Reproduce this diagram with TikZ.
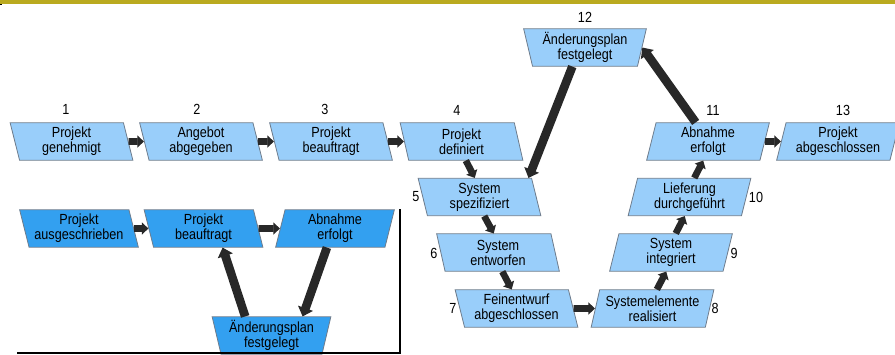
\documentclass[tikz,border=0pt]{standalone}
\usepackage{fontspec}
\setmainfont{Liberation Sans}[FakeStretch=0.86]
\usetikzlibrary{shapes.geometric,arrows.meta,calc}

\definecolor{barolive}{RGB}{186,170,32}
\definecolor{boxblue}{RGB}{153,206,250}
\definecolor{insetblue}{RGB}{51,160,240}
\definecolor{boxedge}{RGB}{110,124,140}
\definecolor{arrowgray}{RGB}{40,40,40}

\tikzset{every picture/.style={line width=0.75pt}}
\tikzset{
  box/.style={shape=trapezium, trapezium stretches body, draw=boxedge, line width=0.6pt,
    fill=boxblue, minimum width=92pt, minimum height=28pt, inner sep=1pt, align=center,
    font=\fontsize{11}{11.3}\selectfont},
  back/.style={box, trapezium left angle=106.6, trapezium right angle=73.4},
  fwd/.style={box, trapezium left angle=73.4, trapezium right angle=106.6},
  plan/.style={box, trapezium left angle=105, trapezium right angle=105},
  inset/.style={fill=insetblue, minimum width=89pt},
  num/.style={inner sep=0pt, font=\fontsize{11}{11.3}\selectfont},
  flow/.style={draw=arrowgray, line width=5pt, -{Triangle[length=5pt,width=9pt]}},
  longflow/.style={draw=arrowgray, line width=6.5pt, -{Triangle[length=6.5pt,width=11.5pt]}}
}

\begin{document}
\begin{tikzpicture}[x=0.75pt,y=0.75pt,yscale=-1,xscale=1]
\useasboundingbox (0,0) rectangle (895,354);
% top bar
\fill [barolive] (0,0) rectangle (895,3.5);
\fill [black] (0,3.5) rectangle (2,5);

% main chain
\node [back] (b1) at (71.5,141.5) {Projekt\\genehmigt};
\node [back] (b2) at (201,141.5) {Angebot\\abgegeben};
\node [back] (b3) at (331,141.5) {Projekt\\beauftragt};
\node [back] (b4) at (461.5,141.5) {Projekt\\definiert};
\node [back] (b5) at (479.5,197) {System\\spezifiziert};
\node [back] (b6) at (498,252.5) {System\\entworfen};
\node [back] (b7) at (516.5,308.5) {Feinentwurf\\abgeschlossen};
\node [fwd] (b8) at (652.5,308.5) {Systemelemente\\realisiert};
\node [fwd] (b9) at (671,252.5) {System\\integriert};
\node [fwd] (b10) at (689.5,197) {Lieferung\\durchgeführt};
\node [fwd] (b11) at (708,141.5) {Abnahme\\erfolgt};
\node [plan] (b12) at (585,47.5) {Änderungsplan\\festgelegt};
\node [fwd] (b13) at (838,141.5) {Projekt\\abgeschlossen};

% step numbers
\node [num] (n1) at (66,109) {1};
\node [num] (n2) at (197,109) {2};
\node [num] (n3) at (325,109) {3};
\node [num] (n4) at (457,110) {4};
\node [num] (n5) at (416,197) {5};
\node [num] (n6) at (434,253) {6};
\node [num] (n7) at (453,308) {7};
\node [num] (n8) at (715,308) {8};
\node [num] (n9) at (734,253) {9};
\node [num] (n10) at (756,197) {10};
\node [num] (n11) at (713,110) {11};
\node [num] (n12) at (585,17) {12};
\node [num] (n13) at (843,110) {13};

\draw [flow] (b1) -- (b2);
\draw [flow] (b2) -- (b3);
\draw [flow] (b3) -- (b4);
\draw [flow] (b4.bottom side) -- (b5.top side);
\draw [flow] (b5.bottom side) -- (b6.top side);
\draw [flow] (b6.bottom side) -- (b7.top side);
\draw [flow] (b7) -- (b8);
\draw [flow] (b8.top side) -- (b9.bottom side);
\draw [flow] (b9.top side) -- (b10.bottom side);
\draw [flow] (b10.top side) -- (b11.bottom side);
\draw [flow] (b11) -- (b13);
\draw [longflow] ($(b12.bottom left corner)!0.38!(b12.bottom right corner)$) -- ($(b5.top left corner)!0.97!(b5.top right corner)$);
\draw [longflow] ($(b11.top left corner)!0.35!(b11.top right corner)$) -- (b12.right side);

% small inset chain
\node [back,inset] (a1) at (79,228.5) {Projekt\\ausgeschrieben};
\node [back,inset] (a2) at (203.5,228.5) {Projekt\\beauftragt};
\node [fwd,inset] (a3) at (335,228.5) {Abnahme\\erfolgt};
\node [plan,inset] (a4) at (271.5,335.5) {Änderungsplan\\festgelegt};

\draw [flow] (a1) -- (a2);
\draw [flow] (a2) -- (a3);
\draw [longflow] ($(a4.top left corner)!0.28!(a4.top right corner)$) -- ($(a2.bottom left corner)!0.63!(a2.bottom right corner)$);
\draw [longflow] ($(a3.bottom left corner)!0.47!(a3.bottom right corner)$) -- ($(a4.top left corner)!0.76!(a4.top right corner)$);

% inset frame
\draw [line width=1.5pt] (17,352.7) -- (399.5,352.7) -- (399.5,209);
\end{tikzpicture}
\end{document}
